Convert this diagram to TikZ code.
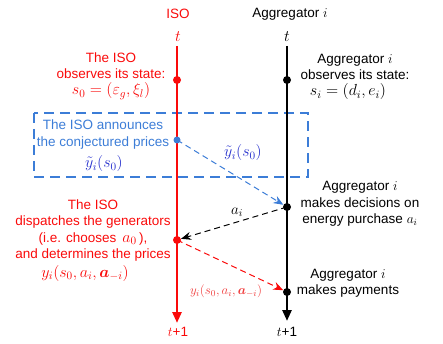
\RequirePackage{fix-cm}
\documentclass[tikz,border=0pt]{standalone}
\usepackage{amsmath,bm}
\usepackage{fontspec}
\setmainfont{Liberation Sans}
\usetikzlibrary{arrows.meta}
\definecolor{isored}{RGB}{250,10,10}
\definecolor{lightred}{RGB}{240,60,60}
\definecolor{boxblue}{RGB}{60,125,215}
\definecolor{mathblue}{RGB}{40,50,205}
\begin{document}
\begin{tikzpicture}[x=1pt,y=-1pt,
  txt/.style={font=\fontsize{13.5}{16.5}\selectfont, align=center, inner sep=0pt},
  mth/.style={font=\fontsize{16}{18}\selectfont, inner sep=0pt},
  dot/.style={circle, fill, inner sep=0pt, minimum size=8pt},
  timeline/.style={line width=2.6pt, -{Triangle[length=11pt,width=9pt]}},
  msg/.style={dashed, dash pattern=on 6pt off 4pt, line width=1pt, -{Stealth[length=10pt,width=8pt]}}]
\useasboundingbox (0,0) rectangle (443,344);

% headers
\node[txt, text=isored] (isohead) at (178,14) {ISO};
\node[txt] (agghead) at (290,14) {Aggregator $i$};
\node[mth, text=isored] (tiso) at (178,37) {$t$};
\node[mth] (tagg) at (287,37) {$t$};
\node[txt, text=isored] (t1iso) at (178,332) {$t$+1};
\node[txt] (t1agg) at (287,332) {$t$+1};

% timelines
\coordinate (isotop) at (177,46);
\coordinate (isobot) at (177,323);
\coordinate (aggtop) at (287,46);
\coordinate (aggbot) at (287,321);

% blue dashed box
\draw[boxblue, line width=1.2pt, dash pattern=on 10pt off 6pt] (34,113) rectangle (308,177);

\draw[timeline, isored] (isotop) -- (isobot);
\draw[timeline, black] (aggtop) -- (aggbot);

% dots
\node[dot, isored] (d1) at (177,80) {};
\node[dot, black] (e1) at (287,80) {};
\node[dot, boxblue, minimum size=7pt] (b1) at (177,140) {};
\node[dot, black] (e2) at (287,207) {};
\node[dot, isored] (d2) at (177,240) {};
\node[dot, black] (e3) at (287,292) {};

% texts
\node[txt, text=isored] (isoobs) at (111,65.5) {The ISO\\observes its state:};
\node[mth, text=isored] (s0) at (111,91) {$s_0=(\varepsilon_g,\xi_l)$};
\node[txt] (aggobs) at (355,67) {Aggregator $i$\\observes its state:};
\node[mth] (si) at (348,92) {$s_i=(d_i,e_i)$};

\node[txt, text=boxblue] (announce) at (103,134.5) {The ISO announces\\the conjectured prices};
\node[mth, text=mathblue] (yt) at (104,164) {$\tilde{y}_i(s_0)$};

\node[txt] (decide) at (360,204) {Aggregator $i$\\makes decisions on\\energy purchase $a_i$};

\node[txt, text=isored] (dispatch) at (93,230.5) {The ISO\\dispatches the generators\\(i.e. chooses \,{\fontsize{16}{18}\selectfont$a_0$}\,),\\and determines the prices};
\node[mth, text=isored] (yi) at (85,273) {$y_i(s_0,a_i,\bm{a}_{-i})$};

\node[txt] (pay) at (348,283.5) {Aggregator $i$\\makes payments};

% messages
\draw[msg, boxblue] (b1.center) -- (e2);
\node[mth, text=mathblue] (ytl) at (243,153) {$\tilde{y}_i(s_0)$};
\draw[msg, black] (e2.center) -- (d2);
\node[mth, font=\fontsize{15}{16}\selectfont] (ail) at (237,212) {$a_i$};
\draw[msg, isored] (d2.center) -- (e3);
\node[inner sep=0pt, text=lightred, font=\fontsize{13}{14}\selectfont] (yil) at (226,291) {$y_i(s_0,a_i,\bm{a}_{-i})$};
\end{tikzpicture}
\end{document}
